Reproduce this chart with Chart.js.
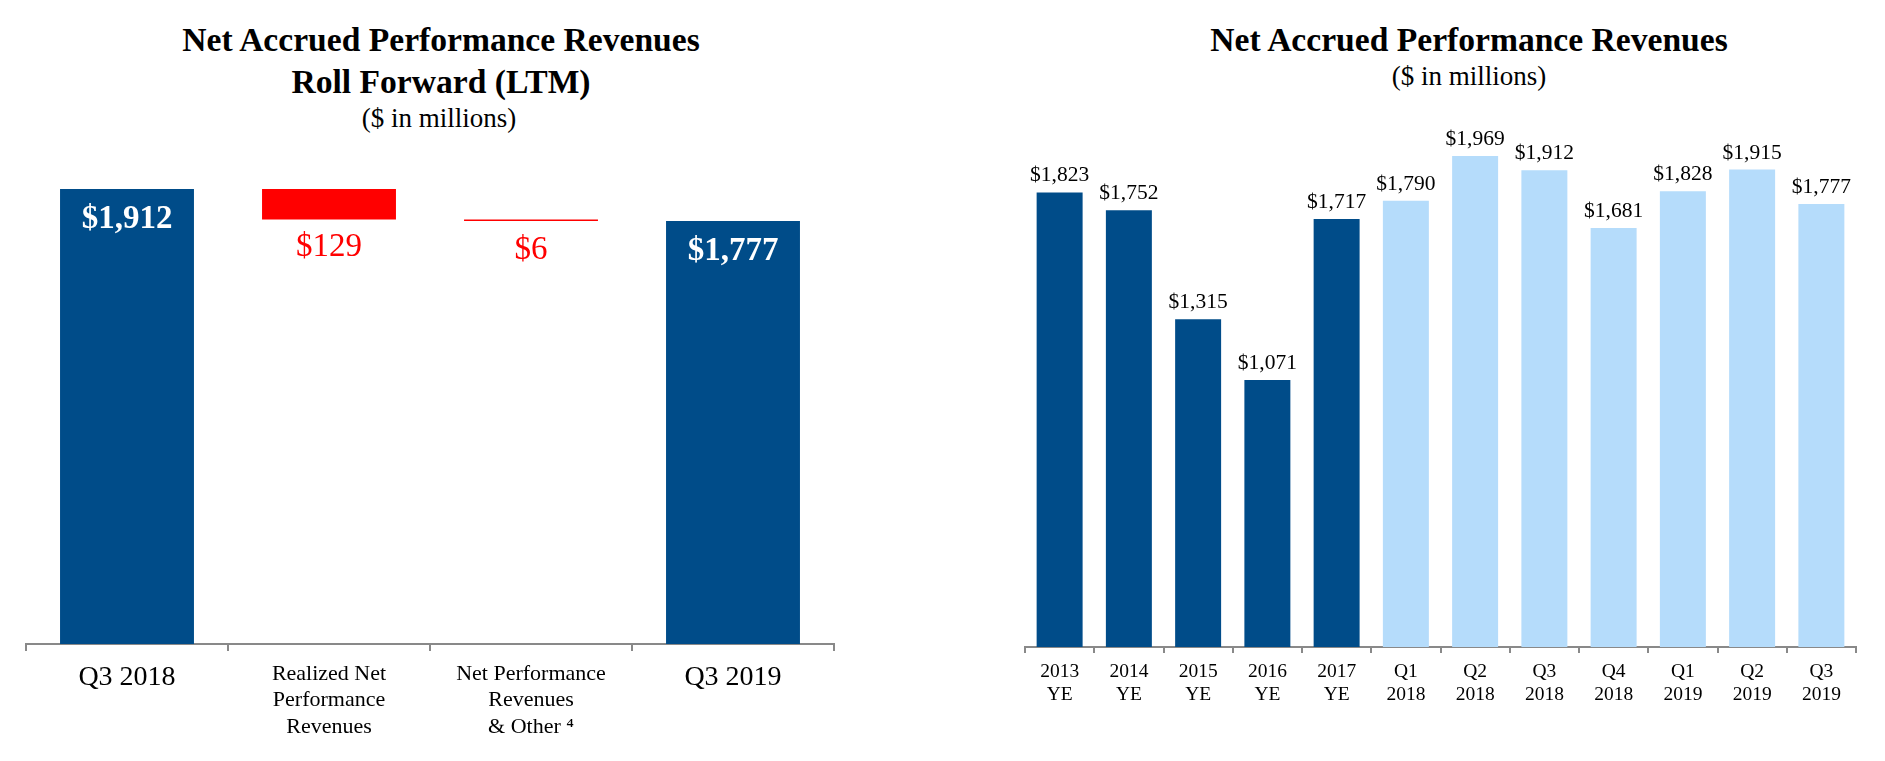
<!DOCTYPE html>
<html><head><meta charset="utf-8">
<script src="https://cdn.jsdelivr.net/npm/chart.js@4.4.0/dist/chart.umd.min.js"></script>
<style>
html,body{margin:0;padding:0;background:#fff;width:1885px;height:761px;overflow:hidden;}
.t{position:absolute;font-family:"Liberation Serif","Times New Roman",serif;text-align:center;color:#000;white-space:nowrap;}
.h{font-weight:bold;font-size:33.6px;line-height:42px;}
.s{font-size:27px;line-height:30px;}
.box{position:absolute;top:0;}
</style></head><body>
<div class="t h" style="left:141px;width:600px;top:19px">Net Accrued Performance Revenues<br>Roll Forward (LTM)</div>
<div class="t s" style="left:139px;width:600px;top:103px">($ in millions)</div>
<div class="t h" style="left:1169px;width:600px;top:19px">Net Accrued Performance Revenues</div>
<div class="t s" style="left:1169px;width:600px;top:61px">($ in millions)</div>
<div class="box" style="left:0;width:900px;height:761px"><canvas id="c1" width="900" height="761"></canvas></div>
<div class="box" style="left:940px;width:945px;height:761px"><canvas id="c2" width="945" height="761"></canvas></div>
<script>
const FONT = '"Liberation Serif", "Times New Roman", serif';
const BLUE = '#004C89';
const LIGHT = '#B5DCFB';
const RED = '#FF0000';

// Roll forward (waterfall)
const rollCategories = [["Q3 2018"], ["Realized Net","Performance","Revenues"], ["Net Performance","Revenues","& Other \u2074"], ["Q3 2019"]];
const rollValues = [1912, -129, -6, 1777];
const rollKinds = ["total", "change", "change", "total"];
const rollLabels = ["$1,912", "$129", "$6", "$1,777"];

// History
const navCategories = [["2013","YE"],["2014","YE"],["2015","YE"],["2016","YE"],["2017","YE"],["Q1","2018"],["Q2","2018"],["Q3","2018"],["Q4","2018"],["Q1","2019"],["Q2","2019"],["Q3","2019"]];
const navValues = [1823, 1752, 1315, 1071, 1717, 1790, 1969, 1912, 1681, 1828, 1915, 1777];
const navPeriodType = ["year","year","year","year","year","quarter","quarter","quarter","quarter","quarter","quarter","quarter"];
const navLabels = ["$1,823","$1,752","$1,315","$1,071","$1,717","$1,790","$1,969","$1,912","$1,681","$1,828","$1,915","$1,777"];

let running = 0;
const rollRanges = rollValues.map((v, i) => {
  if (rollKinds[i] === 'total') { running = v; return [0, v]; }
  const start = running; running = start + v; return [running, start];
});

const rollLabelPlugin = {
  id: 'rollLabels',
  afterDatasetsDraw(chart) {
    const ctx = chart.ctx;
    chart.getDatasetMeta(0).data.forEach((bar, i) => {
      ctx.save();
      ctx.textAlign = 'center'; ctx.textBaseline = 'alphabetic';
      if (rollKinds[i] === 'total') {
        ctx.font = 'bold 33px ' + FONT; ctx.fillStyle = '#fff';
        ctx.fillText(rollLabels[i], bar.x, Math.min(bar.y, bar.base) + 39);
      } else {
        ctx.font = '33px ' + FONT; ctx.fillStyle = RED;
        const low = Math.max(bar.y, bar.base);
        ctx.fillText(rollLabels[i], bar.x, low + (i === 1 ? 36 : 38));
      }
      ctx.restore();
    });
  }
};

const navLabelPlugin = {
  id: 'navLabels',
  afterDatasetsDraw(chart) {
    const ctx = chart.ctx;
    chart.getDatasetMeta(0).data.forEach((bar, i) => {
      ctx.save();
      ctx.textAlign = 'center'; ctx.textBaseline = 'alphabetic';
      ctx.font = '21.5px ' + FONT; ctx.fillStyle = '#000';
      ctx.fillText(navLabels[i], bar.x, bar.y - 11);
      ctx.restore();
    });
  }
};

new Chart(document.getElementById('c1'), {
  type: 'bar',
  data: { labels: rollCategories, datasets: [{
    data: rollRanges,
    backgroundColor: rollKinds.map(k => k === 'total' ? BLUE : RED),
    borderWidth: 0, borderSkipped: false,
    categoryPercentage: 1, barPercentage: 0.663
  }]},
  options: {
    responsive: false, animation: false,
    layout: { padding: { left: 26, right: 66, top: 122, bottom: 0 } },
    plugins: { legend: { display: false }, tooltip: { enabled: false } },
    scales: {
      x: {
        offset: true,
        grid: { offset: true, drawOnChartArea: false, drawTicks: true, tickLength: 7, color: '#898989', lineWidth: 2 },
        border: { display: true, color: '#898989', width: 2 },
        ticks: { color: '#000', padding: 10, maxRotation: 0, autoSkip: false,
          font: (c) => ({ family: FONT, size: rollCategories[c.index].length === 1 ? 28 : 22, lineHeight: 1.2 }) },
        afterFit: (s) => { s.height = 117; }
      },
      y: { display: false, min: 0, max: 2193 }
    }
  },
  plugins: [rollLabelPlugin]
});

new Chart(document.getElementById('c2'), {
  type: 'bar',
  data: { labels: navCategories, datasets: [{
    data: navValues,
    backgroundColor: navPeriodType.map(t => t === 'year' ? BLUE : LIGHT),
    borderWidth: 0,
    categoryPercentage: 1, barPercentage: 0.664
  }]},
  options: {
    responsive: false, animation: false,
    layout: { padding: { left: 85, right: 29, top: 101, bottom: 0 } },
    plugins: { legend: { display: false }, tooltip: { enabled: false } },
    scales: {
      x: {
        offset: true,
        grid: { offset: true, drawOnChartArea: false, drawTicks: true, tickLength: 6, color: '#898989', lineWidth: 2 },
        border: { display: true, color: '#898989', width: 2 },
        ticks: { color: '#000', padding: 7, maxRotation: 0, autoSkip: false,
          font: { family: FONT, size: 19.5, lineHeight: 1.18 } },
        afterFit: (s) => { s.height = 114; }
      },
      y: { display: false, min: 0, max: 2190 }
    }
  },
  plugins: [navLabelPlugin]
});
</script>
</body></html>
